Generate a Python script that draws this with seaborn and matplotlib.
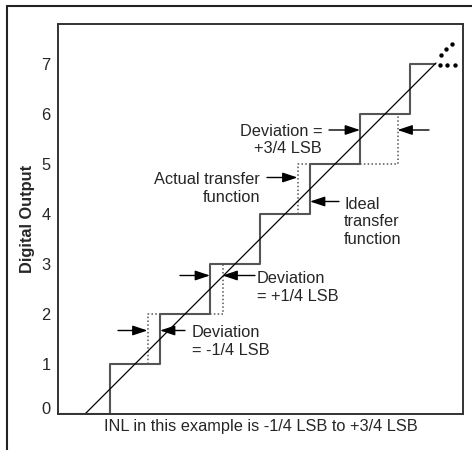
import numpy as np
import pandas as pd
import seaborn as sns
import matplotlib.pyplot as plt
from matplotlib.lines import Line2D
from matplotlib.transforms import ScaledTranslation

# ideal staircase: code k starts at input k (LSB units)
codes = [0, 1, 2, 3, 4, 5, 6, 7]
code_start = [0, 1, 2, 3, 4, 5, 6, 7]
last_end = 7.5

# codes whose transition is shifted, and by how much (LSB)
dev_codes = [2, 3, 5, 6]
dev_lsb = [-0.25, 0.25, -0.25, 0.75]

# straight line through the middle of the steps
line_x = [0.5, 7.52]
line_y = [0.0, 7.02]

# "..." continuation marks at top right
dots_x = [7.60, 7.73, 7.89, 7.61, 7.72, 7.83]
dots_y = [6.98, 6.98, 6.98, 7.18, 7.29, 7.40]

# arrows: (tail, tip)
arrows = [
    ((1.16, 1.67), (1.75, 1.67)),
    ((2.50, 1.67), (2.00, 1.67)),
    ((2.40, 2.77), (3.00, 2.77)),
    ((3.90, 2.77), (3.25, 2.77)),
    ((5.38, 5.68), (6.00, 5.68)),
    ((7.38, 5.68), (6.75, 5.68)),
    ((4.14, 4.73), (4.75, 4.73)),
    ((5.58, 4.25), (5.00, 4.25)),
]

# annotations: (text, x, y, ha)
notes = [
    ("Deviation =\n+3/4 LSB", 5.24, 5.48, "right"),
    ("Actual transfer\nfunction", 4.00, 4.51, "right"),
    ("Ideal\ntransfer\nfunction", 5.68, 3.84, "left"),
    ("Deviation\n= +1/4 LSB", 3.94, 2.53, "left"),
    ("Deviation\n= -1/4 LSB", 2.64, 1.45, "left"),
]

ytick_labels = ["0", "1", "2", "3", "4", "5", "6", "7"]
x_label = "INL in this example is -1/4 LSB to +3/4 LSB"
y_label = "Digital Output"

sns.set_theme(style="white")
plt.rcParams["font.family"] = ["Liberation Sans", "DejaVu Sans"]
fs = 11.8

fig = plt.figure(figsize=(4.72, 4.5), dpi=100)
ax = fig.add_axes([58 / 472, 36 / 450, 405 / 472, 390 / 450])

stair = pd.DataFrame({"x": code_start + [last_end], "y": codes + [codes[-1]]})
sns.lineplot(data=stair, x="x", y="y", drawstyle="steps-post", estimator=None,
             sort=False, color="#555555", lw=1.5, ax=ax)

rows = []
for i, (k, d) in enumerate(zip(dev_codes, dev_lsb)):
    a = k + d
    if d < 0:
        pts = [(a, k - 1), (a, k), (k, k)]
    else:
        pts = [(k, k - 1), (a, k - 1), (a, k)]
    for px, py in pts:
        rows.append({"seg": i, "x": px, "y": py})
dotted = pd.DataFrame(rows)
sns.lineplot(data=dotted, x="x", y="y", units="seg", estimator=None, sort=False,
             color="#555555", lw=1.1, linestyle=(0, (1, 1.5)), ax=ax)

sns.lineplot(x=line_x, y=line_y, color="black", lw=0.9, ax=ax)
sns.scatterplot(x=dots_x, y=dots_y, color="black", s=10, linewidth=0, ax=ax)

for tail, tip in arrows:
    ax.annotate("", xy=tip, xytext=tail,
                arrowprops=dict(arrowstyle="-|>,head_length=0.9,head_width=0.3",
                                color="black", lw=1, shrinkA=0, shrinkB=0,
                                mutation_scale=10))

for txt, x, y, ha in notes:
    ax.text(x, y, txt, ha=ha, va="center", multialignment=ha, fontsize=fs,
            linespacing=1.22)

ax.set_xlim(-0.04, 8.06)
ax.set_ylim(0, 7.8)
ax.set_xticks([])
ax.set_yticks(codes)
ax.set_yticklabels(ytick_labels, fontsize=fs)
ax.tick_params(axis="y", length=0, pad=5.5)
lbl0 = ax.get_yticklabels()[0]
lbl0.set_transform(lbl0.get_transform() + ScaledTranslation(0, 6 / 100, fig.dpi_scale_trans))

ax.set_xlabel(x_label, fontsize=fs)
ax.xaxis.set_label_coords(0.5, -0.012)
ax.xaxis.label.set_va("top")
ax.set_ylabel(y_label, fontsize=fs, fontweight="bold")
ax.yaxis.label.set_va("center")
ax.yaxis.set_label_coords(-0.075, 0.5)

for s in ax.spines.values():
    s.set_color("#333333")
    s.set_linewidth(1.4)

# outer frame (only top and left edges fall inside the picture)
fx, fy = 7 / 472, 1 - 6 / 450
fig.add_artist(Line2D([fx, fx], [0, fy], color="#222222", lw=1.5))
fig.add_artist(Line2D([fx, 1], [fy, fy], color="#222222", lw=1.5))

fig.savefig("out.png", dpi=100)
